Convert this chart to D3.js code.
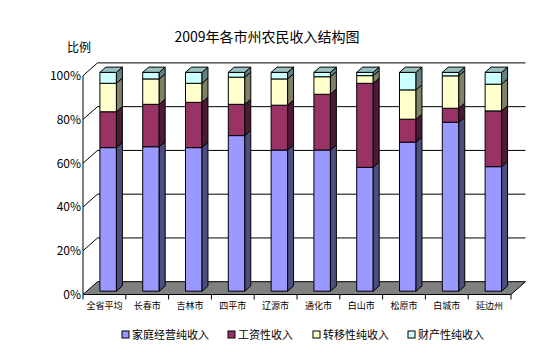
<!DOCTYPE html>
<html><head><meta charset="utf-8">
<script src="https://cdn.jsdelivr.net/npm/d3@7"></script>
<style>body{margin:0;background:#fff}svg{display:block}text{font-family:"Noto Sans CJK SC","Noto Sans",sans-serif}</style>
</head><body><svg id="c" width="536" height="358"></svg>
<script>
const categories = ["全省平均","长春市","吉林市","四平市","辽源市","通化市","白山市","松原市","白城市","延边州"];
const seriesNames = ["家庭经营纯收入","工资性收入","转移性纯收入","财产性纯收入"];
const family   = [65.6, 66.0, 65.6, 71.1, 64.5, 64.5, 56.6, 68.1, 77.2, 56.9];
const wage     = [16.4, 19.4, 20.7, 14.3, 20.5, 25.5, 38.4, 10.5,  6.4, 25.5];
const transfer = [13.0, 11.6,  8.7, 12.4, 12.0,  8.0,  3.5, 13.4, 14.8, 12.2];
const property = [ 5.0,  3.0,  5.0,  2.2,  3.0,  2.0,  1.5,  8.0,  1.6,  5.4];
const tickValues = [0, 20, 40, 60, 80, 100];
const tickLabels = ["0%","20%","40%","60%","80%","100%"];
const colors = ["#9999FF","#993366","#FFFFCC","#CCFFFF"];
const seriesValues = [family, wage, transfer, property];

const svg = d3.select("#c");
const DX = 14.5, DY = -12.8;          // depth projection
const Z0 = 0.26, Z1 = 0.67;           // bar depth range
const x = d3.scaleBand().domain(categories).range([83, 511]).paddingInner(0.614).paddingOuter(0.307);
const xb = d3.scaleBand().domain(categories).range([83, 511]).padding(0);
const y = d3.scaleLinear().domain([0, 100]).range([294.5, 75.7]);
const P = (px, v, z) => [px + z * DX, y(v) + z * DY];
const poly = pts => "M" + pts.map(p => p.join(",")).join("L") + "Z";

// floor
const x0 = 83, x1 = 511;
svg.append("path").attr("d", poly([P(x0,0,0),P(x1,0,0),P(x1,0,1),P(x0,0,1)]))
  .attr("fill","#808080").attr("stroke","#000").attr("stroke-width",1);

// gridlines (back wall + left wall diagonals)
tickValues.forEach(t => {
  if (t > 0) {
    const a = P(x0,t,0), b = P(x0,t,1), c = P(x1,t,1);
    svg.append("path").attr("d", `M${a}L${b}L${c}`).attr("fill","none").attr("stroke","#000").attr("stroke-width",1);
  }
});
// left wall front edge
svg.append("line").attr("x1",x0).attr("x2",x0).attr("y1",y(0)).attr("y2",y(100)).attr("stroke","#000");

// y labels
svg.append("g").selectAll("text").data(tickValues).join("text")
  .attr("x", 81).attr("y", d => y(d) + 4.5).attr("text-anchor","end")
  .attr("font-size", 12).attr("fill","#000").text((d,i) => tickLabels[i]);

// category ticks & labels
const bounds = categories.map(c => xb(c)).concat([x1]);
svg.append("g").selectAll("line").data(bounds).join("line")
  .attr("x1", d => d).attr("x2", d => d).attr("y1", y(0)).attr("y2", y(0) + 5).attr("stroke","#000");
svg.append("g").selectAll("text").data(categories).join("text")
  .attr("x", d => xb(d) + xb.bandwidth()/2).attr("y", 309).attr("text-anchor","middle")
  .attr("font-size", 9).attr("fill","#000").text(d => d);

// bars
const stack = d3.stack().keys(d3.range(4)).value((d, k) => seriesValues[k][d]);
const stacked = stack(d3.range(categories.length));
const shade = (c, k) => { const r = d3.rgb(c); return d3.rgb(r.r*k, r.g*k, r.b*k).toString(); };
categories.forEach((cat, i) => {
  const g = svg.append("g");
  const xl = x(cat), xr = x(cat) + x.bandwidth();
  stacked.forEach((layer, k) => {
    const [v0, v1] = layer[i];
    g.append("path").attr("d", poly([P(xl,v0,Z0),P(xr,v0,Z0),P(xr,v1,Z0),P(xl,v1,Z0)]))
      .attr("fill", colors[k]).attr("stroke","#000").attr("stroke-width",1);
    g.append("path").attr("d", poly([P(xr,v0,Z0),P(xr,v0,Z1),P(xr,v1,Z1),P(xr,v1,Z0)]))
      .attr("fill", shade(colors[k],0.5)).attr("stroke","#000").attr("stroke-width",1);
  });
  const top = stacked[3][i][1];
  g.append("path").attr("d", poly([P(xl,top,Z0),P(xr,top,Z0),P(xr,top,Z1),P(xl,top,Z1)]))
    .attr("fill", shade(colors[3],0.75)).attr("stroke","#000").attr("stroke-width",1);
});

// title
svg.append("text").attr("x", 267).attr("y", 42).attr("text-anchor","middle")
  .attr("font-size", 14).attr("fill","#000").text("2009年各市州农民收入结构图");
svg.append("text").attr("x", 67).attr("y", 52).attr("font-size", 12).attr("fill","#000").text("比例");

// legend
const legX = [122, 228, 313, 408];
const lg = svg.append("g").selectAll("g").data(seriesNames).join("g")
  .attr("transform", (d,i) => `translate(${legX[i]},331)`);
lg.append("rect").attr("width",7).attr("height",7).attr("fill",(d,i)=>colors[i]).attr("stroke","#000");
lg.append("text").attr("x",10).attr("y",7.5).attr("font-size",11).attr("fill","#000").text(d=>d);
</script></body></html>
